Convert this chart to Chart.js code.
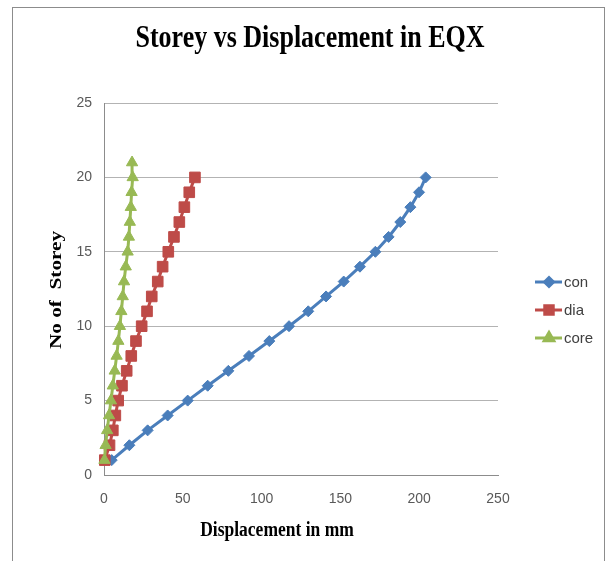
<!DOCTYPE html>
<html lang="en">
<head>
    <meta charset="UTF-8">
    <title>Storey vs Displacement in EQX</title>
    <script src="https://cdn.jsdelivr.net/npm/chart.js"></script>
    <style>
        body { margin: 0; background: #fff; }
        canvas { display: block; }
    </style>
</head>
<body>
    <canvas id="grafico" width="612" height="561"></canvas>
    <script>
        // storey numbers (core has one more level)
        const storeys = [1, 2, 3, 4, 5, 6, 7, 8, 9, 10, 11, 12, 13, 14, 15, 16, 17, 18, 19, 20];
        const coreStoreys = [1, 2, 3, 4, 5, 6, 7, 8, 9, 10, 11, 12, 13, 14, 15, 16, 17, 18, 19, 20, 21];

        // displacement in mm
        const con = [4.9, 16.1, 27.7, 40.4, 53.1, 65.8, 78.9, 92.0, 104.9, 117.4, 129.6, 140.9, 152.1, 162.4, 172.2, 180.6, 188.0, 194.4, 199.9, 204.1];
        const dia = [0.5, 3.5, 5.6, 7.2, 9.0, 11.4, 14.4, 17.3, 20.3, 23.9, 27.3, 30.3, 34.1, 37.2, 40.8, 44.4, 47.8, 51.0, 54.1, 57.7];
        const core = [0.3, 1.0, 2.0, 3.2, 4.4, 5.6, 6.8, 8.0, 9.1, 10.1, 11.0, 11.9, 12.7, 13.8, 15.0, 15.8, 16.4, 17.0, 17.5, 18.2, 17.8];

        const xTicks = [0, 50, 100, 150, 200, 250];
        const yTicks = [0, 5, 10, 15, 20, 25];

        const series = [
            { label: 'con', values: con, levels: storeys, color: '#4A7EBB', style: 'rectRot', radius: 5.5, legendRadius: 4.5 },
            { label: 'dia', values: dia, levels: storeys, color: '#BE4B48', style: 'rect', radius: 7.5, legendRadius: 6 },
            { label: 'core', values: core, levels: coreStoreys, color: '#98B954', style: 'triangle', radius: 6.5, legendRadius: 5.5 }
        ];

        const serif = "'Liberation Serif', 'Times New Roman', serif";

        // frame, titles and legend drawn by hand
        const decoracao = {
            id: 'decoracao',
            beforeDraw(chart) {
                const ctx = chart.ctx;
                ctx.save();
                ctx.fillStyle = '#fff';
                ctx.fillRect(0, 0, chart.width, chart.height);
                ctx.strokeStyle = '#8c8c8c';
                ctx.lineWidth = 1;
                ctx.strokeRect(12.5, 7.5, 592, 600);
                ctx.restore();
            },
            afterDraw(chart) {
                const ctx = chart.ctx;
                ctx.save();
                ctx.fillStyle = '#000';
                ctx.textAlign = 'center';
                ctx.textBaseline = 'middle';

                // main title
                ctx.save();
                ctx.translate(310, 39);
                ctx.scale(1, 1.25);
                ctx.font = 'bold 26px ' + serif;
                ctx.fillText('Storey vs Displacement in EQX', 0, 0);
                ctx.restore();

                // x axis title
                ctx.save();
                ctx.translate(277, 530);
                ctx.scale(1, 1.25);
                ctx.font = 'bold 17.5px ' + serif;
                ctx.fillText('Displacement in mm', 0, 0);
                ctx.restore();

                // y axis title
                ctx.save();
                ctx.translate(57, 290);
                ctx.rotate(-Math.PI / 2);
                ctx.scale(1.25, 1);
                ctx.font = 'bold 17px ' + serif;
                ctx.fillText('No of  Storey', 0, 0);
                ctx.restore();

                // legend
                ctx.font = "15px 'Liberation Sans', Arial, sans-serif";
                ctx.textAlign = 'left';
                series.forEach((s, i) => {
                    const y = 282 + i * 28;
                    ctx.strokeStyle = s.color;
                    ctx.fillStyle = s.color;
                    ctx.lineWidth = 3;
                    ctx.beginPath();
                    ctx.moveTo(535, y);
                    ctx.lineTo(562, y);
                    ctx.stroke();
                    Chart.helpers.drawPoint(ctx, { pointStyle: s.style, radius: s.legendRadius, rotation: 0, borderWidth: 1 }, 549, y);
                    ctx.fillStyle = '#404040';
                    ctx.fillText(s.label, 564, y + 1);
                });
                ctx.restore();
            }
        };

        new Chart(document.getElementById('grafico'), {
            type: 'scatter',
            data: {
                datasets: series.map((s, i) => ({
                    label: s.label,
                    data: s.levels.map((lv, j) => ({ x: s.values[j], y: lv })),
                    showLine: true,
                    borderColor: s.color,
                    backgroundColor: s.color,
                    borderWidth: 3,
                    pointStyle: s.style,
                    pointRadius: s.radius,
                    pointBorderWidth: 1,
                    pointBackgroundColor: s.color,
                    pointBorderColor: s.color,
                    tension: 0,
                    clip: false,
                    order: series.length - i
                }))
            },
            options: {
                responsive: false,
                animation: false,
                layout: { padding: { top: 103, right: 114, left: 0, bottom: 0 } },
                scales: {
                    x: {
                        type: 'linear',
                        min: 0,
                        max: 250,
                        afterFit(scale) { scale.height = 86; },
                        afterBuildTicks(scale) { scale.ticks = xTicks.map(v => ({ value: v })); },
                        grid: { display: false, drawTicks: false },
                        border: { display: true, color: '#8c8c8c', width: 1 },
                        ticks: {
                            padding: 16,
                            color: '#595959',
                            font: { family: "'Liberation Sans', Arial, sans-serif", size: 14 }
                        }
                    },
                    y: {
                        type: 'linear',
                        min: 0,
                        max: 25,
                        afterFit(scale) { scale.width = 104; },
                        afterBuildTicks(scale) { scale.ticks = yTicks.map(v => ({ value: v })); },
                        grid: { color: '#b3b3b3', lineWidth: 1, drawTicks: false },
                        border: { display: true, color: '#8c8c8c', width: 1 },
                        ticks: {
                            padding: 12,
                            color: '#595959',
                            font: { family: "'Liberation Sans', Arial, sans-serif", size: 14 }
                        }
                    }
                },
                plugins: {
                    legend: { display: false },
                    title: { display: false },
                    tooltip: { enabled: false }
                }
            },
            plugins: [decoracao]
        });
    </script>
</body>
</html>
